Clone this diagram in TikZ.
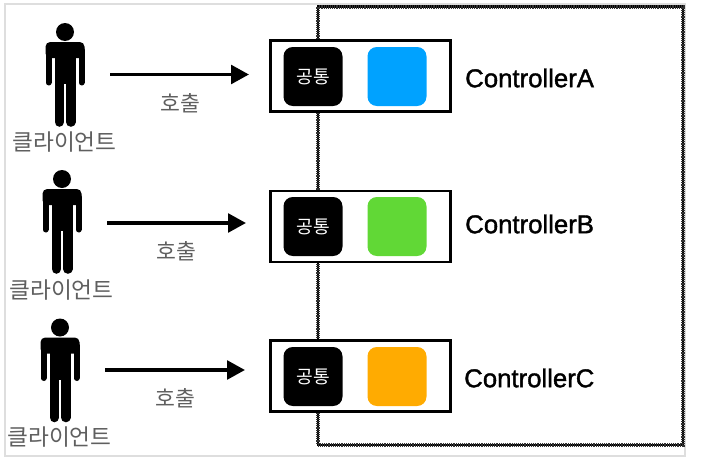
\documentclass[tikz,border=0pt]{standalone}
\usepackage{fontspec}
\setmainfont{Liberation Sans}
\newfontfamily\krfont{Noto Sans CJK KR}
\newfontfamily\ctlfont[FakeBold=1.4]{Liberation Sans}
\definecolor{lblgray}{RGB}{95,95,95}
\definecolor{blueblk}{RGB}{0,162,255}
\definecolor{greenblk}{RGB}{97,216,54}
\definecolor{orangeblk}{RGB}{255,171,1}
\definecolor{framegray}{RGB}{222,222,222}
\tikzset{
  x=0.75pt,y=-0.75pt,
  outerbox/.style={draw=black,line width=2.2pt,fill=white,minimum width=180*0.75pt,minimum height=71*0.75pt,inner sep=0pt},
  commonbox/.style={draw=none,fill=black,rounded corners=7pt,minimum size=59*0.75pt,inner sep=0pt,text=white,font=\krfont\fontsize{13.6}{14}\selectfont},
  colorbox/.style={draw=none,rounded corners=7pt,minimum size=59*0.75pt,inner sep=0pt},
  ctllabel/.style={anchor=west,inner sep=0pt,font=\ctlfont\fontsize{19.3}{21}\selectfont},
  calllabel/.style={inner sep=0pt,text=lblgray,font=\krfont\fontsize{16.2}{17}\selectfont},
  clientlabel/.style={inner sep=0pt,text=lblgray,font=\krfont\fontsize{17}{18}\selectfont},
  callarrow/.style={draw=black,line width=2.8pt,-{Triangle[length=13.5pt,width=14pt]}},
  person/.pic={
    \fill[black] (0,0) circle[radius=9];
    \fill[black,rounded corners=3.5pt] (-19.5,10) rectangle (19.5,26);
    \fill[black] (-10.5,16) rectangle (10.5,52);
    \draw[black,line width=4.5pt,line cap=round] (-16.5,18) -- (-16.5,50.5);
    \draw[black,line width=4.5pt,line cap=round] (16.5,18) -- (16.5,50.5);
    \draw[black,line width=7.2pt,line cap=round] (-5.7,48) -- (-5.7,90);
    \draw[black,line width=7.2pt,line cap=round] (5.7,48) -- (5.7,90);
  }
}
\usetikzlibrary{arrows.meta}
\begin{document}
\begin{tikzpicture}
\useasboundingbox (0,0) rectangle (711,468);
\fill[white] (0,0) rectangle (711,468);
\draw[framegray,line width=0.8pt] (5,4) rectangle (685,456);
\draw[black,line width=1.9pt] (318,6.5) rectangle (683,445);
\draw[black!80,line width=3pt,dash pattern=on 0.7pt off 0.7pt] (318,6.5) rectangle (683,445);

\pic at (65,32) {person};
\pic at (62,179) {person};
\pic at (60,327.5) {person};

\node[clientlabel] (c1) at (64.5,142.5) {클라이언트};
\node[clientlabel] (c2) at (61.5,290.5) {클라이언트};
\node[clientlabel] (c3) at (59.5,437.5) {클라이언트};

\node[outerbox] (a) at (360.5,76) {};
\node[outerbox] (b) at (360.5,226.5) {};
\node[outerbox] (c) at (360.5,376) {};

\node[commonbox] (ca) at (313,76.5) {공통};
\node[commonbox] (cb) at (313,226.5) {공통};
\node[commonbox] (cc) at (313,376.5) {공통};

\node[colorbox,fill=blueblk] (ba) at (397,76.5) {};
\node[colorbox,fill=greenblk] (bb) at (397,226.5) {};
\node[colorbox,fill=orangeblk] (bc) at (397,376.5) {};

\node[ctllabel] (la) at (465,78) {ControllerA};
\node[ctllabel] (lb) at (465,224) {ControllerB};
\node[ctllabel] (lc) at (464,378) {ControllerC};

\coordinate (s1) at (110,74.5);
\coordinate (e1) at (249,74.5);
\coordinate (s2) at (107,223);
\coordinate (e2) at (246,223);
\coordinate (s3) at (105,370);
\coordinate (e3) at (245,370);
\draw[callarrow] (s1) -- (e1);
\draw[callarrow] (s2) -- (e2);
\draw[callarrow] (s3) -- (e3);

\node[calllabel] (h1) at (180,103) {호출};
\node[calllabel] (h2) at (176,251) {호출};
\node[calllabel] (h3) at (175,398) {호출};
\end{tikzpicture}
\end{document}
